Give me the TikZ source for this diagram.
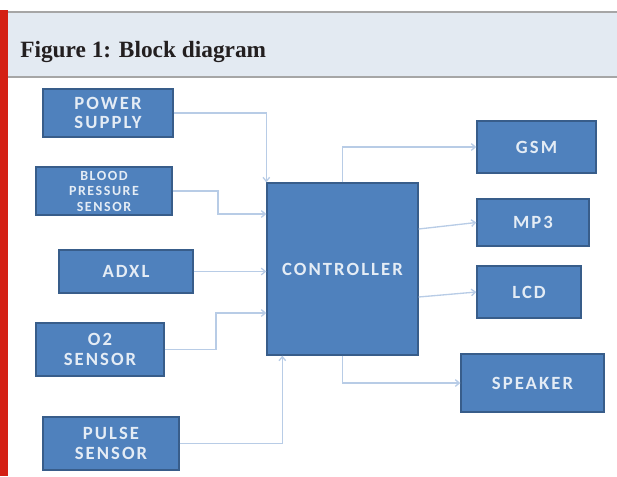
\documentclass[tikz,border=0pt]{standalone}
\usepackage{fontspec}
\setmainfont{Liberation Serif}
\newfontfamily\boxfont[LetterSpace=11]{Carlito}
\usetikzlibrary{arrows.meta}
\definecolor{boxblue}{RGB}{79,129,189}
\definecolor{boxedge}{RGB}{56,93,138}
\definecolor{linkblue}{RGB}{184,204,230}
\definecolor{headfill}{RGB}{227,234,242}
\definecolor{headline}{RGB}{166,166,166}
\definecolor{barred}{RGB}{212,32,20}
\definecolor{titleink}{RGB}{35,31,32}
\tikzset{
  block/.style={draw=boxedge, fill=boxblue, line width=1pt, text=white!85!boxblue, align=center, inner sep=0pt,
    font=\boxfont\bfseries\fontsize{14}{14.5}\selectfont},
  link/.style={draw=linkblue, line width=1pt, -{Straight Barb[length=3pt,width=5pt]}}
}
\begin{document}
\begin{tikzpicture}[x=0.75pt, y=-0.75pt]
\useasboundingbox (0,0) rectangle (617,476);

% header
\fill[headfill] (8,12) rectangle (617,76);
\draw[headline, line width=1.5pt] (8,11.5) -- (617,11.5);
\draw[headline, line width=1.5pt] (8,76.5) -- (617,76.5);
\fill[barred] (0,10) rectangle (8,476);
\node[anchor=base west, inner sep=0pt, text=titleink, font=\bfseries\fontsize{17.5}{19}\selectfont] (title) at (20,57) {Figure 1: Block diagram};

% inputs
\node[block, minimum width=97.5pt, minimum height=36pt] (power) at (108,113) {POWER\\SUPPLY};
\node[block, minimum width=102pt, minimum height=36pt, font=\boxfont\bfseries\fontsize{10.5}{11.6}\selectfont] (blood) at (104,191) {BLOOD\\PRESSURE\\SENSOR};
\node[block, minimum width=100.5pt, minimum height=32.25pt] (adxl) at (126,271.5) {ADXL};
\node[block, minimum width=96pt, minimum height=39.75pt] (oxy) at (100,349.5) {O2\\SENSOR};
\node[block, minimum width=102pt, minimum height=39.75pt] (pulse) at (111,443.5) {PULSE\\SENSOR};

% controller
\node[block, minimum width=113.25pt, minimum height=129pt] (ctrl) at (342.5,269) {CONTROLLER};

% outputs
\node[block, minimum width=89.25pt, minimum height=39pt] (gsm) at (536.5,147) {GSM};
\node[block, minimum width=84pt, minimum height=35.25pt] (mp3) at (533,222.5) {MP3};
\node[block, minimum width=78pt, minimum height=39pt] (lcd) at (529,292) {LCD};
\node[block, minimum width=107.25pt, minimum height=43.5pt] (spk) at (532.5,383) {SPEAKER};

% links
\draw[link] (power.east) -| (ctrl.north west);
\draw[link] (blood.east) -- (218,191) |- (ctrl.west |- 0,214);
\draw[link] (adxl.east) -- (ctrl.west |- adxl.east);
\draw[link] (oxy.east) -- (216,349.5) |- (ctrl.west |- 0,313);
\draw[link] (pulse.east) -| ([xshift=12pt]ctrl.south west);
\draw[link] (ctrl.north) |- (gsm.west);
\draw[link] (ctrl.east |- 0,229) -- (mp3.west);
\draw[link] (ctrl.east |- 0,297) -- (lcd.west);
\draw[link] (ctrl.south) |- (spk.west);

\end{tikzpicture}
\end{document}
